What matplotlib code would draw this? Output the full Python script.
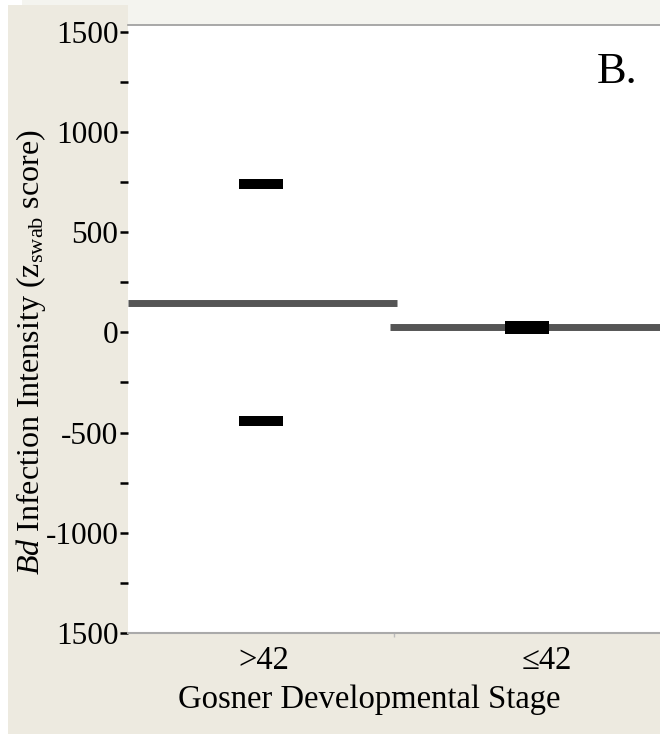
import matplotlib
matplotlib.use("Agg")
import matplotlib.pyplot as plt
from matplotlib.patches import Rectangle
from matplotlib.ticker import FixedLocator
from matplotlib.transforms import ScaledTranslation

# ---- data ----
categories = [">42", "\u226442"]
group_pos = [0.5, 1.5]
means = [148, 25]
upper_ci = [740, 33]
lower_ci = [-442, 17]

ytick_values = [1500, 1250, 1000, 750, 500, 250, 0, -250, -500, -750, -1000, -1250, -1500]
ytick_labels = ["1500", "", "1000", "", "500", "", "0", "", "-500", "", "-1000", "", "1500"]

plt.rcParams['font.family'] = ['Liberation Serif', 'DejaVu Serif']
plt.rcParams['mathtext.fontset'] = 'custom'
plt.rcParams['mathtext.rm'] = 'Liberation Serif'
plt.rcParams['mathtext.it'] = 'Liberation Serif:italic'

W, H = 660, 734
fig = plt.figure(figsize=(W / 100, H / 100), dpi=100)
fig.patch.set_facecolor('white')

beige = '#EDEAE0'
light = '#F4F4EF'

def px_rect(x0, y0, x1, y1, color):
    fig.patches.append(Rectangle((x0 / W, 1 - y1 / H), (x1 - x0) / W, (y1 - y0) / H,
                                 transform=fig.transFigure, facecolor=color,
                                 edgecolor='none', zorder=-10))

px_rect(8, 5, 660, 734, beige)
px_rect(22, 0, 660, 5, light)
px_rect(128, 0, 660, 25, light)

ax = fig.add_axes([128 / W, (H - 633) / H, (660 - 128) / W, (633 - 25) / H])
ax.set_facecolor('white')
ax.set_xlim(0, 2)
ax.set_ylim(-1500, 1533)

# group mean lines
for i, (p, m) in enumerate(zip(group_pos, means)):
    x0 = p - 0.5 - (0.015 if i == 1 else 0)
    x1 = p + 0.5 + (0.011 if i == 0 else 0)
    ax.hlines(m, x0, x1, colors='#555555', linewidth=5, capstyle='butt', zorder=2)

# CI bars
half = 0.081
for p, u, l in zip(group_pos, upper_ci, lower_ci):
    ax.hlines([u, l], p - half, p + half, colors='black', linewidth=7.2,
              capstyle='butt', zorder=3)

# y axis
ax.yaxis.set_major_locator(FixedLocator(ytick_values))
ax.set_yticklabels(ytick_labels)
ax.tick_params(axis='y', direction='out', length=6, width=1.8, color='black',
               labelsize=22.5, pad=1, labelcolor='black')

# x axis
ax.set_xticks(group_pos)
ax.set_xticklabels(categories)
ax.xaxis.set_minor_locator(FixedLocator([1.0]))
ax.tick_params(axis='x', which='major', length=0, labelsize=23.5, pad=9)
ax.tick_params(axis='x', which='minor', length=3, width=1, color='#bbbbbb', direction='out')
xl = ax.get_xticklabels()
xl[0].set_transform(xl[0].get_transform() + ScaledTranslation(3 / 100, 0, fig.dpi_scale_trans))
xl[1].set_transform(xl[1].get_transform() + ScaledTranslation(20 / 100, 0, fig.dpi_scale_trans))

for s in ['left', 'right']:
    ax.spines[s].set_visible(False)
ax.spines['top'].set_color('#9a9a9a')
ax.spines['top'].set_linewidth(1.2)
ax.spines['bottom'].set_color('#aaaaaa')
ax.spines['bottom'].set_linewidth(1.5)

ax.set_xlabel("Gosner Developmental Stage", fontsize=23.5)
ax.xaxis.set_label_coords((369 - 128) / 532, -(700 - 633) / 608, transform=ax.transAxes)
ax.xaxis.label.set_va('center')

ax.set_ylabel(r"$\mathit{Bd}$ Infection Intensity (z$_{\mathrm{swab}}$ score)", fontsize=23)
ax.yaxis.set_label_coords(-(128 - 31) / 532, (633 - 352) / 608, transform=ax.transAxes)
ax.yaxis.label.set_va('center')

ax.text((617 - 128) / 532, (633 - 72) / 608, "B.", transform=ax.transAxes,
        fontsize=32, ha='center', va='center')

fig.savefig("out.png", dpi=100, facecolor=fig.get_facecolor())
